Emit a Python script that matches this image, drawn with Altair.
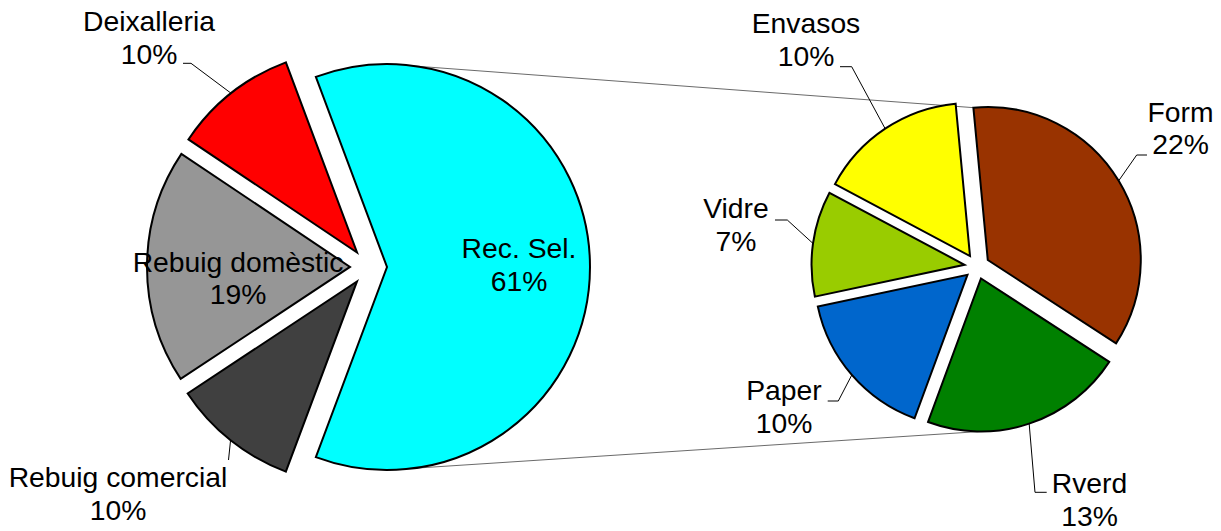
import math
import altair as alt
import pandas as pd

# ---------------- data ----------------
left_labels = ["Rec. Sel.", "Rebuig comercial", "Rebuig domèstic", "Deixalleria"]
left_values = [61.4, 10.0, 18.7, 9.9]

right_labels = ["Form", "Rverd", "Paper", "Vidre", "Envasos"]
right_values = [21.8, 13.1, 9.8, 6.8, 9.6]

# ---------------- styles ----------------
left_colors = ["#00FFFF", "#404040", "#969696", "#FF0000"]
right_colors = ["#993300", "#008000", "#0066CC", "#99CC00", "#FFFF00"]
FONT = "Liberation Sans"
FONT_SIZE = 28.3
LINE_H = 32.5

# ---------------- layout (page pixels) ----------------
OFF = 8  # page margin
W, H = 1205, 523

LEFT = dict(cx=368.5, cy=267.0, r=203.0, d=18.5,
            start=math.pi / 2 - math.pi * left_values[0] / sum(left_values))
RIGHT = dict(cx=977.0, cy=266.5, r=153.0, d=12.6, start=math.radians(-5.4))

# label anchor (center x, first baseline), leader elbow, leader end
label_layout = {
    "Rec. Sel.": ((519, 258.3), None),
    "Rebuig comercial": ((118, 487), ((228.5, 460), (228.5, 460))),
    "Rebuig domèstic": ((238, 271.5), None),
    "Deixalleria": ((149, 31), ((191, 63.3), (183, 63.3))),
    "Form": ((1180.5, 121.7), ((1136.7, 155), (1147, 155))),
    "Rverd": ((1089.5, 493.3), ((1035, 492.3), (1046.7, 492.3))),
    "Paper": ((784, 400), ((838.3, 401), (827.7, 401))),
    "Vidre": ((736, 218.3), ((787.3, 220), (775, 220))),
    "Envasos": ((806, 33.3), ((851.7, 66.7), (840, 66.7))),
}


def build_table(labels, values):
    rows = []
    for i, (lab, v) in enumerate(zip(labels, values)):
        (tx, ty), lead = label_layout[lab]
        row = dict(label=lab, value=v, order=i,
                   text=f"{lab}\n{round(v)}%",
                   tx=tx - OFF, ty=ty - OFF, leader=lead is not None)
        if lead is not None:
            (ex, ey), (hx, hy) = lead
            row.update(ex=ex - OFF, ey=ey - OFF, hx=hx - OFF, hy=hy - OFF)
        else:
            row.update(ex=0, ey=0, hx=0, hy=0)
        rows.append(row)
    return pd.DataFrame(rows)


color_scale = alt.Scale(domain=left_labels + right_labels,
                        range=left_colors + right_colors)


def pie_layers(labels, values, geo):
    df = build_table(labels, values)
    cx, cy, r, d, start = geo["cx"] - OFF, geo["cy"] - OFF, geo["r"], geo["d"], geo["start"]
    base = (
        alt.Chart(df)
        .transform_joinaggregate(total="sum(value)")
        .transform_window(cum="sum(value)", sort=[alt.SortField("order")], frame=[None, 0])
        .transform_calculate(t1=f"{start} + 2*PI*datum.cum/datum.total")
        .transform_calculate(t0="datum.t1 - 2*PI*datum.value/datum.total")
        .transform_calculate(mid="(datum.t0 + datum.t1)/2")
        .transform_calculate(sx=f"{cx} + {d}*sin(datum.mid)")
        .transform_calculate(sy=f"{cy} - {d}*cos(datum.mid)")
        .transform_calculate(ax=f"datum.sx + {r}*sin(datum.mid)")
        .transform_calculate(ay=f"datum.sy - {r}*cos(datum.mid)")
    )
    arcs = base.mark_arc(radius=r, stroke="black", strokeWidth=2, strokeJoin="miter").encode(
        x=alt.X("sx:Q", scale=None, axis=None),
        y=alt.Y("sy:Q", scale=None, axis=None),
        theta=alt.Theta("t0:Q", scale=None, stack=False),
        theta2=alt.Theta2("t1:Q"),
        color=alt.Color("label:N", scale=color_scale, legend=None),
    )
    lead = base.transform_filter("datum.leader")
    seg1 = lead.mark_rule(color="black", strokeWidth=1).encode(
        x=alt.X("ax:Q", scale=None, axis=None),
        y=alt.Y("ay:Q", scale=None, axis=None),
        x2="ex:Q", y2="ey:Q",
    )
    seg2 = lead.mark_rule(color="black", strokeWidth=1).encode(
        x=alt.X("ex:Q", scale=None, axis=None),
        y=alt.Y("ey:Q", scale=None, axis=None),
        x2="hx:Q", y2="hy:Q",
    )
    texts = base.mark_text(font=FONT, fontSize=FONT_SIZE, lineBreak="\n", lineHeight=LINE_H,
                           align="center", baseline="alphabetic", color="black").encode(
        x=alt.X("tx:Q", scale=None, axis=None),
        y=alt.Y("ty:Q", scale=None, axis=None),
        text="text:N",
    )
    return arcs, seg1, seg2, texts


def slice_geometry(values, geo):
    tot = sum(values)
    out = []
    acc = geo["start"]
    for v in values:
        t0 = acc
        t1 = acc + 2 * math.pi * v / tot
        mid = (t0 + t1) / 2
        sx = geo["cx"] + geo["d"] * math.sin(mid)
        sy = geo["cy"] - geo["d"] * math.cos(mid)
        out.append((t0, t1, sx, sy))
        acc = t1
    return out


# connector lines between the two pies
lg = slice_geometry(left_values, LEFT)
_, _, lsx, lsy = lg[0]
rg = slice_geometry(right_values, RIGHT)
t0f, _, fsx, fsy = rg[0]
top_end = (fsx + RIGHT["r"] * math.sin(t0f), fsy - RIGHT["r"] * math.cos(t0f))
bottom_end = None
for t0, t1, sx, sy in rg:
    if t0 <= math.pi <= t1:
        bottom_end = (sx, sy + RIGHT["r"])
conn = pd.DataFrame({
    "x": [lsx - OFF, lsx - OFF],
    "y": [lsy - LEFT["r"] - OFF, lsy + LEFT["r"] - OFF],
    "x2": [top_end[0] - OFF, bottom_end[0] - OFF],
    "y2": [top_end[1] - OFF, bottom_end[1] - OFF],
})
connectors = alt.Chart(conn).mark_rule(color="#444444", strokeWidth=0.8).encode(
    x=alt.X("x:Q", scale=None, axis=None),
    y=alt.Y("y:Q", scale=None, axis=None),
    x2="x2:Q", y2="y2:Q",
)

la, ls1, ls2, lt = pie_layers(left_labels, left_values, LEFT)
ra, rs1, rs2, rt = pie_layers(right_labels, right_values, RIGHT)

chart = (
    alt.layer(connectors, la, ra, ls1, ls2, rs1, rs2, lt, rt)
    .properties(width=W, height=H, autosize="none", padding=0, background="white")
    .configure_view(stroke=None)
)

chart.save("out.html", embed_options={"renderer": "svg", "actions": False})
